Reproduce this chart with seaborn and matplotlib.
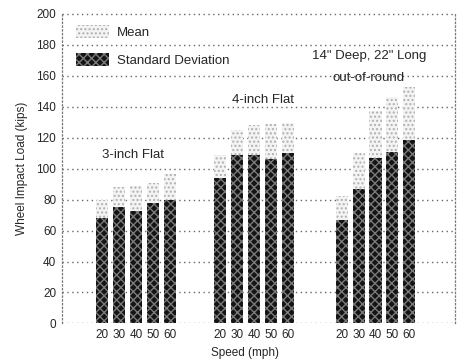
import pandas as pd
import numpy as np
import matplotlib.pyplot as plt
import seaborn as sns
from matplotlib.patches import Patch

# --- DATA ---
speeds = [20, 30, 40, 50, 60]
groups = ['3-inch Flat', '4-inch Flat', 'out-of-round']
group_offsets = [0.0, 7.0, 14.2]
mean_top = [80, 88, 89, 91, 96.5,
            109, 125, 128, 129, 129.5,
            82, 110, 137.5, 146, 153]
std_top = [68, 75.5, 72.5, 77.5, 79.5,
           94, 109, 109, 106.5, 110,
           66.5, 87, 107, 111, 118.5]

pos = [off + i for off in group_offsets for i in range(len(speeds))]
df = pd.DataFrame({
    'pos': pos,
    'speed': speeds * len(groups),
    'mean_top': mean_top,
    'std_top': std_top,
})

# --- FIGURE ---
sns.set_style('white')
plt.rcParams['font.family'] = ['Liberation Sans', 'DejaVu Sans']
plt.rcParams['hatch.linewidth'] = 1.0

fig = plt.figure(figsize=(4.58, 3.61), dpi=100)
ax = fig.add_axes([0.135, 0.104, 0.858, 0.860])

sns.barplot(data=df, x='pos', y='mean_top', native_scale=True, width=0.72,
            color='#f4f4f4', saturation=1, ax=ax, zorder=2)
n_mean = len(ax.patches)
sns.barplot(data=df, x='pos', y='std_top', native_scale=True, width=0.72,
            color='#141414', saturation=1, ax=ax, zorder=3)

for i, p in enumerate(ax.patches):
    p.set_linewidth(0)
    if i < n_mean:
        p.set_hatch('....')
        p.set_edgecolor('#b0b0b0')
    else:
        p.set_hatch('xxxx')
        p.set_edgecolor('#7a7a7a')

# --- AXES STYLING ---
ax.set_ylim(0, 200.5)
ax.set_xlim(-2.4, 20.9)
ax.set_yticks(range(0, 201, 20))
ax.set_xticks(df['pos'])
ax.set_xticklabels(df['speed'])
ax.tick_params(axis='both', labelsize=8.5, length=2, color='#888', pad=2)
ax.set_axisbelow(True)
ax.yaxis.grid(True, color='#666', linestyle=(0, (1, 2.5)), linewidth=1.0)
ax.xaxis.grid(False)
for s in ['top', 'bottom']:
    ax.spines[s].set_visible(False)
for s in ['left', 'right']:
    ax.spines[s].set_linestyle((0, (1, 2)))
    ax.spines[s].set_color('#777')
    ax.spines[s].set_linewidth(0.9)

ax.set_xlabel('Speed (mph)', fontsize=8.5, labelpad=2)
ax.xaxis.set_label_coords(0.466, -0.075)
ax.set_ylabel('Wheel Impact Load (kips)', fontsize=8.5, labelpad=6)

# --- ANNOTATIONS ---
ax.text(1.84, 108.7, '3-inch Flat', fontsize=9.5, ha='center', va='center')
ax.text(9.5, 144.6, '4-inch Flat', fontsize=9.5, ha='center', va='center')
ax.text(15.8, 172.6, '14" Deep, 22" Long', fontsize=9.5, ha='center', va='center')
ax.text(15.8, 158.5, 'out-of-round', fontsize=9.5, ha='center', va='center')

# --- LEGEND ---
handles = [Patch(facecolor='#f4f4f4', edgecolor='#b0b0b0', hatch='....', linewidth=0),
           Patch(facecolor='#141414', edgecolor='#7a7a7a', hatch='xxxx', linewidth=0)]
ax.legend(handles, ['Mean', 'Standard Deviation'], loc='upper left',
          bbox_to_anchor=(0.005, 1.0), frameon=False, fontsize=9.5,
          handlelength=2.5, handleheight=1.1, labelspacing=1.1, handletextpad=0.6)

fig.savefig('out.png', dpi=100)
